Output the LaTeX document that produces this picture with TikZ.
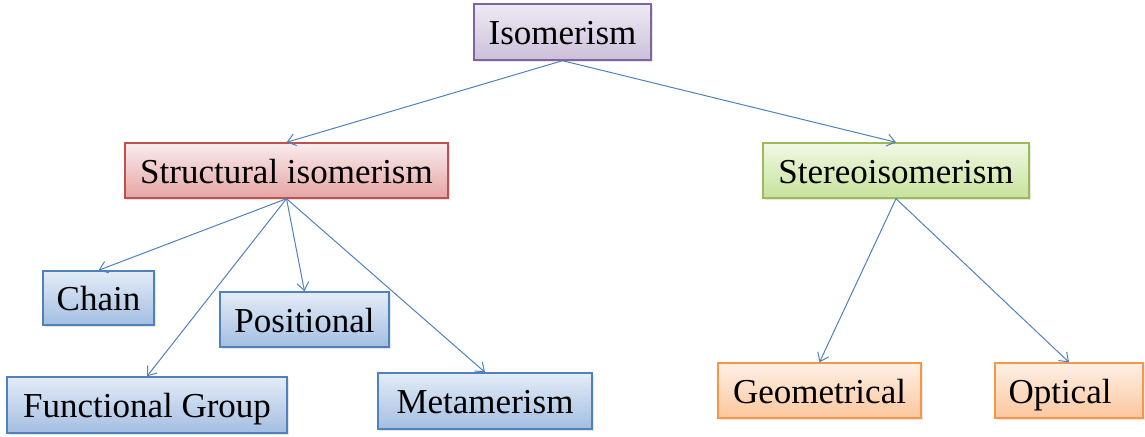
\documentclass[tikz,border=0pt]{standalone}
\usepackage{fontspec}
\setmainfont{Liberation Serif}
\usetikzlibrary{arrows.meta,shadows}
\definecolor{linkblue}{HTML}{4F81BD}
\definecolor{purpleline}{HTML}{8064A2}
\definecolor{purpletop}{HTML}{EEEAF4}
\definecolor{purplebot}{HTML}{CCC0DA}
\definecolor{redline}{HTML}{C0504D}
\definecolor{redtop}{HTML}{F9ECEC}
\definecolor{redbot}{HTML}{E6A5A4}
\definecolor{blueline}{HTML}{4F81BD}
\definecolor{bluetop}{HTML}{E4ECF7}
\definecolor{bluebot}{HTML}{A3BEE2}
\definecolor{greenline}{HTML}{9BBB59}
\definecolor{greentop}{HTML}{F1F8E6}
\definecolor{greenbot}{HTML}{C6E39A}
\definecolor{orangeline}{HTML}{F79646}
\definecolor{orangetop}{HTML}{FEF0E6}
\definecolor{orangebot}{HTML}{FBC79D}
\begin{document}
\begin{tikzpicture}[x=0.5pt, y=-0.5pt,
    box/.style={draw, line width=0.7pt, inner sep=0pt, anchor=center,
      text height=16pt, text depth=3pt,
      font=\fontsize{17.5pt}{20pt}\selectfont,
      drop shadow={opacity=0.2, shadow xshift=0.8pt, shadow yshift=-0.8pt}},
    purplebox/.style={box, draw=purpleline, top color=purpletop, bottom color=purplebot},
    redbox/.style={box, draw=redline, top color=redtop, bottom color=redbot},
    bluebox/.style={box, draw=blueline, top color=bluetop, bottom color=bluebot},
    greenbox/.style={box, draw=greenline, top color=greentop, bottom color=greenbot},
    orangebox/.style={box, draw=orangeline, top color=orangetop, bottom color=orangebot},
    link/.style={draw=linkblue, line width=0.5pt, -{Straight Barb[length=4pt,width=6pt]}}]
  \useasboundingbox (0,0) rectangle (1145,437);

  \node[purplebox, minimum width=88.5pt, minimum height=28pt] (iso) at (562.5,32) {Isomerism};
  \node[redbox, minimum width=161.5pt, minimum height=27.5pt] (struct) at (286.5,170.5) {Structural isomerism};
  \node[greenbox, minimum width=133pt, minimum height=27.5pt] (stereo) at (896,170.5) {Stereoisomerism};

  \node[bluebox, minimum width=55.5pt, minimum height=27pt] (chain) at (98.5,298) {Chain};
  \node[bluebox, minimum width=84.5pt, minimum height=27.5pt] (posn) at (304.5,319.5) {Positional};
  \node[bluebox, minimum width=140pt, minimum height=28pt] (func) at (147,405) {Functional Group};
  \node[bluebox, minimum width=107pt, minimum height=28pt] (meta) at (485,401) {Metamerism};

  \node[orangebox, minimum width=101.5pt, minimum height=27.5pt] (geom) at (819.5,390.5) {Geometrical};
  \node[orangebox, minimum width=74pt, minimum height=27.5pt] (opt) at (1069,390.5) {Optical\hspace*{9pt}};

  \draw[link] (iso.south) -- (struct.north);
  \draw[link] (iso.south) -- (stereo.north);
  \draw[link] (struct.south) -- (chain.north);
  \draw[link] (struct.south) -- (posn.north);
  \draw[link] (struct.south) -- (func.north);
  \draw[link] (struct.south) -- (meta.north);
  \draw[link] (stereo.south) -- (geom.north);
  \draw[link] (stereo.south) -- (opt.north);
\end{tikzpicture}
\end{document}
